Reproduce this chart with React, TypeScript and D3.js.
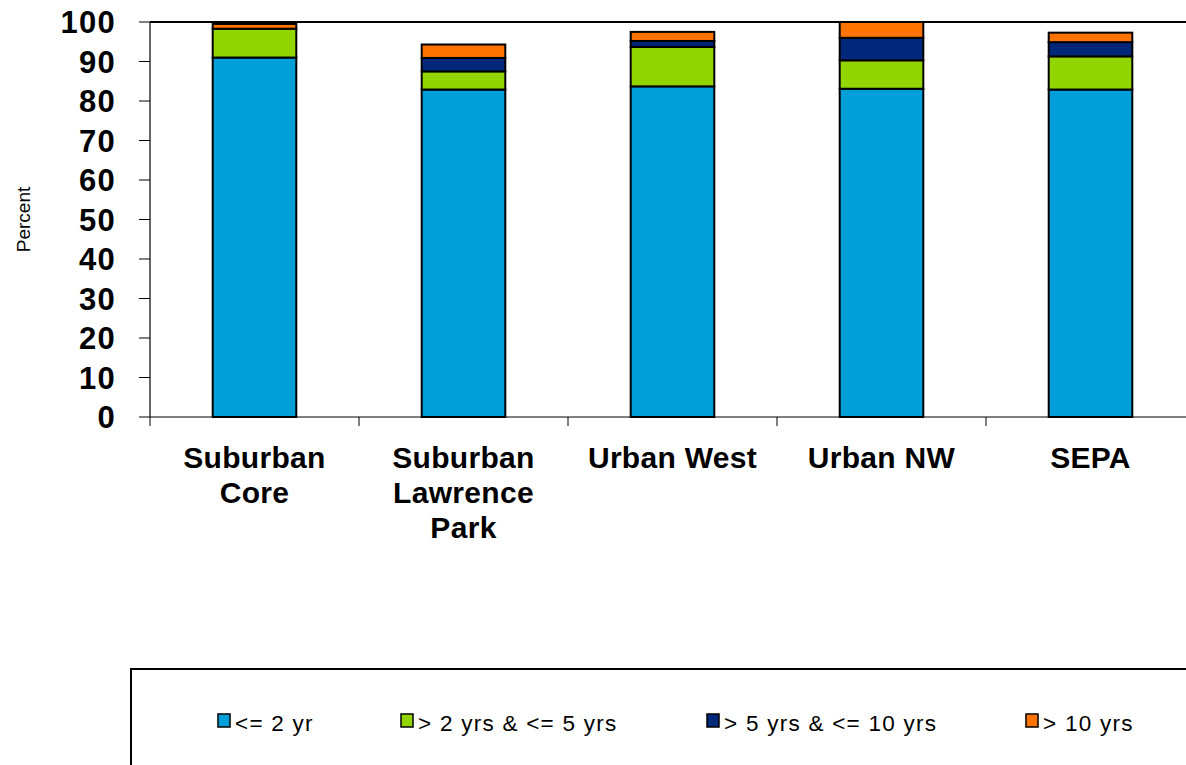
import React from "react";
import * as d3 from "d3";

const categories = ["Suburban Core", "Suburban Lawrence Park", "Urban West", "Urban NW", "SEPA"];
const categoryLines = [["Suburban", "Core"], ["Suburban", "Lawrence", "Park"], ["Urban West"], ["Urban NW"], ["SEPA"]];
const seriesNames = ["<= 2 yr", "> 2 yrs & <= 5 yrs", "> 5 yrs & <= 10 yrs", "> 10 yrs"];
const seriesColors = ["#009FDA", "#93D500", "#00287A", "#FF7300"];
const upTo2 = [91.0, 82.9, 83.7, 83.1, 82.9];
const from2to5 = [7.3, 4.6, 10.0, 7.2, 8.4];
const from5to10 = [0.0, 3.4, 1.5, 5.7, 3.6];
const over10 = [1.2, 3.4, 2.3, 4.0, 2.4];
const yTicks = [0, 10, 20, 30, 40, 50, 60, 70, 80, 90, 100];

const W = 1186;
const H = 765;
const left = 150;
const right = 1195;
const top = 22;
const bottom = 417;

export default function App() {
  const x = d3.scaleBand<string>().domain(categories).range([left, right]).paddingInner(0.6).paddingOuter(0.3);
  const y = d3.scaleLinear().domain([0, 100]).range([bottom, top]);
  const series = [upTo2, from2to5, from5to10, over10];
  const rows = categories.map((c, i) => {
    const r: any = { cat: c };
    seriesNames.forEach((s, j) => (r[s] = series[j][i]));
    return r;
  });
  const stacked = d3.stack<any>().keys(seriesNames)(rows);
  const step = x.step();
  const boundaries = d3.range(categories.length + 1).map((i) => left + i * step);
  const legendX = [218, 401, 707, 1026];
  const font = "Arial, 'Liberation Sans', sans-serif";

  return (
    <svg width={W} height={H} style={{ position: "absolute", left: 0, top: 0, background: "#fff" }} fontFamily={font}>
      <rect x={0} y={0} width={W} height={H} fill="#fff" />
      <line x1={left} x2={right} y1={top} y2={top} stroke="#000" strokeWidth={2} />
      {stacked.map((layer, j) =>
        layer.map((d, i) => {
          const h = y(d[0]) - y(d[1]);
          if (h <= 0.01) return null;
          return (
            <rect
              key={`${j}-${i}`}
              x={x(categories[i])!}
              y={y(d[1])}
              width={x.bandwidth()}
              height={h}
              fill={seriesColors[j]}
              stroke="#000"
              strokeWidth={2}
            />
          );
        })
      )}
      <line x1={left} x2={left} y1={top} y2={bottom} stroke="#000" strokeWidth={1.2} />
      <line x1={left} x2={right} y1={bottom} y2={bottom} stroke="#000" strokeWidth={1.2} />
      {yTicks.map((t) => (
        <g key={t}>
          <line x1={left - 11} x2={left} y1={y(t)} y2={y(t)} stroke="#000" strokeWidth={1} />
          <text x={116} y={y(t)} dy="0.36em" textAnchor="end" fontSize={31} fontWeight="bold" letterSpacing={1.3}>
            {t}
          </text>
        </g>
      ))}
      {boundaries.map((b, i) => (
        <line key={i} x1={b} x2={b} y1={bottom} y2={bottom + 9} stroke="#000" strokeWidth={1} />
      ))}
      {categories.map((c, i) => (
        <text key={c} x={x(c)! + x.bandwidth() / 2} y={468} textAnchor="middle" fontSize={30} fontWeight="bold" letterSpacing={0.3}>
          {categoryLines[i].map((ln, k) => (
            <tspan key={k} x={x(c)! + x.bandwidth() / 2} dy={k === 0 ? 0 : 35}>
              {ln}
            </tspan>
          ))}
        </text>
      ))}
      <text transform={`translate(30,${(top + bottom) / 2}) rotate(-90)`} textAnchor="middle" fontSize={19}>
        Percent
      </text>
      <rect x={131} y={669} width={1100} height={200} fill="#fff" stroke="#000" strokeWidth={2} />
      {seriesNames.map((s, j) => (
        <g key={s}>
          <rect x={legendX[j]} y={714} width={12} height={13} fill={seriesColors[j]} stroke="#000" strokeWidth={1.5} />
          <text x={legendX[j] + 17} y={731} fontSize={22.5} letterSpacing={1.25}>
            {s}
          </text>
        </g>
      ))}
    </svg>
  );
}
